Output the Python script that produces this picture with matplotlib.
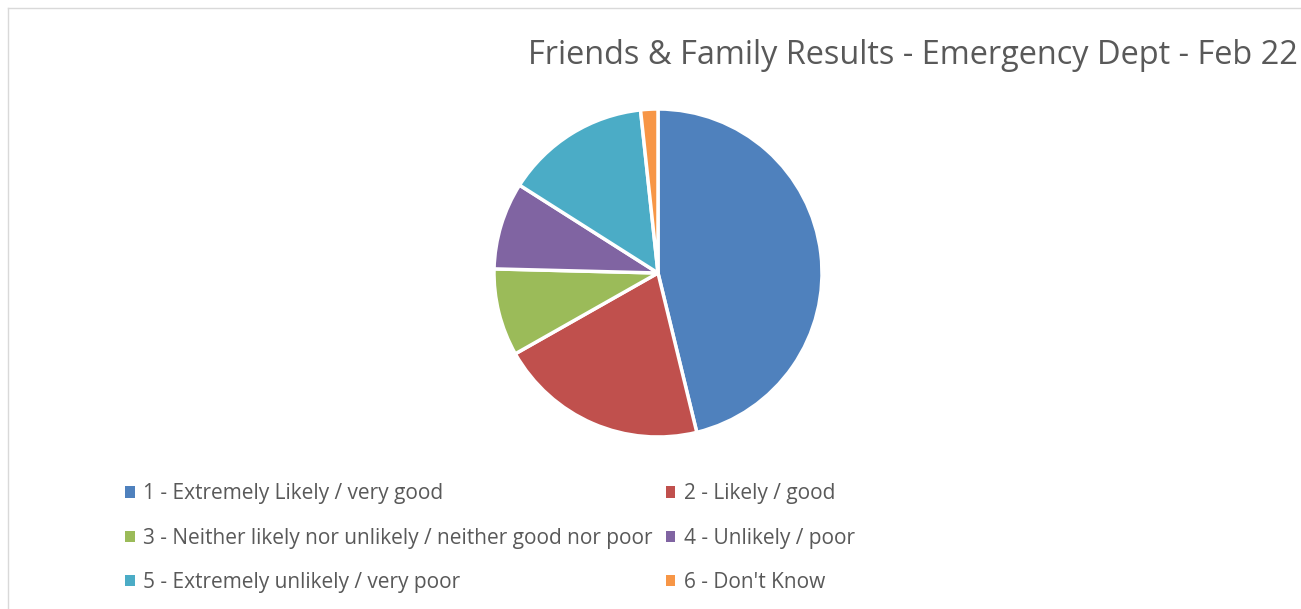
import matplotlib.pyplot as plt
from matplotlib.patches import Patch

labels = ['1 - Extremely Likely / very good', '2 - Likely / good',
          '3 - Neither likely nor unlikely / neither good nor poor', '4 - Unlikely / poor',
          '5 - Extremely unlikely / very poor', "6 - Don't Know"]
values = [46.2, 20.6, 8.6, 8.6, 14.3, 1.7]
colors = ['#4f81bd', '#c0504d', '#9bbb59', '#8064a2', '#4bacc6', '#f79646']

plt.rcParams['font.family'] = ['Open Sans', 'DejaVu Sans']

fig = plt.figure(figsize=(13.01, 6.09), dpi=100)
W, H = 1301, 609

# pie axes: center (658, 273), radius 164 px
r = 164
cx, cy = 658, 273
ax = fig.add_axes([(cx - r) / W, 1 - (cy + r) / H, 2 * r / W, 2 * r / H])
ax.pie(values, colors=colors, startangle=90, counterclock=False,
       wedgeprops=dict(edgecolor='white', linewidth=2.5))
ax.set_aspect('equal')
ax.set_xlim(-1, 1)
ax.set_ylim(-1, 1)

fig.text(1298 / W, 1 - 55 / H, 'Friends & Family Results - Emergency Dept - Feb 22',
         ha='right', va='center', fontsize=23.4, color='#595959')

# legend is filled row by row, matplotlib fills columns first
order = [0, 2, 4, 1, 3, 5]
handles = [Patch(facecolor=colors[i], edgecolor='none') for i in order]
leg = fig.legend(handles, [labels[i] for i in order], ncol=2, loc='upper left',
                 bbox_to_anchor=(117 / W, 1 - 475 / H), frameon=False,
                 fontsize=15, labelcolor='#595959', handlelength=0.45,
                 handleheight=0.45, handletextpad=0.4, columnspacing=0.65,
                 labelspacing=1.12, borderaxespad=0)

# chart border (left and top visible)
fig.add_artist(plt.Line2D([8 / W, 8 / W], [0, 1 - 8 / H], color='#d9d9d9', lw=1))
fig.add_artist(plt.Line2D([8 / W, 1], [1 - 8 / H, 1 - 8 / H], color='#d9d9d9', lw=1))

fig.savefig('out.png', dpi=100, facecolor='white')
